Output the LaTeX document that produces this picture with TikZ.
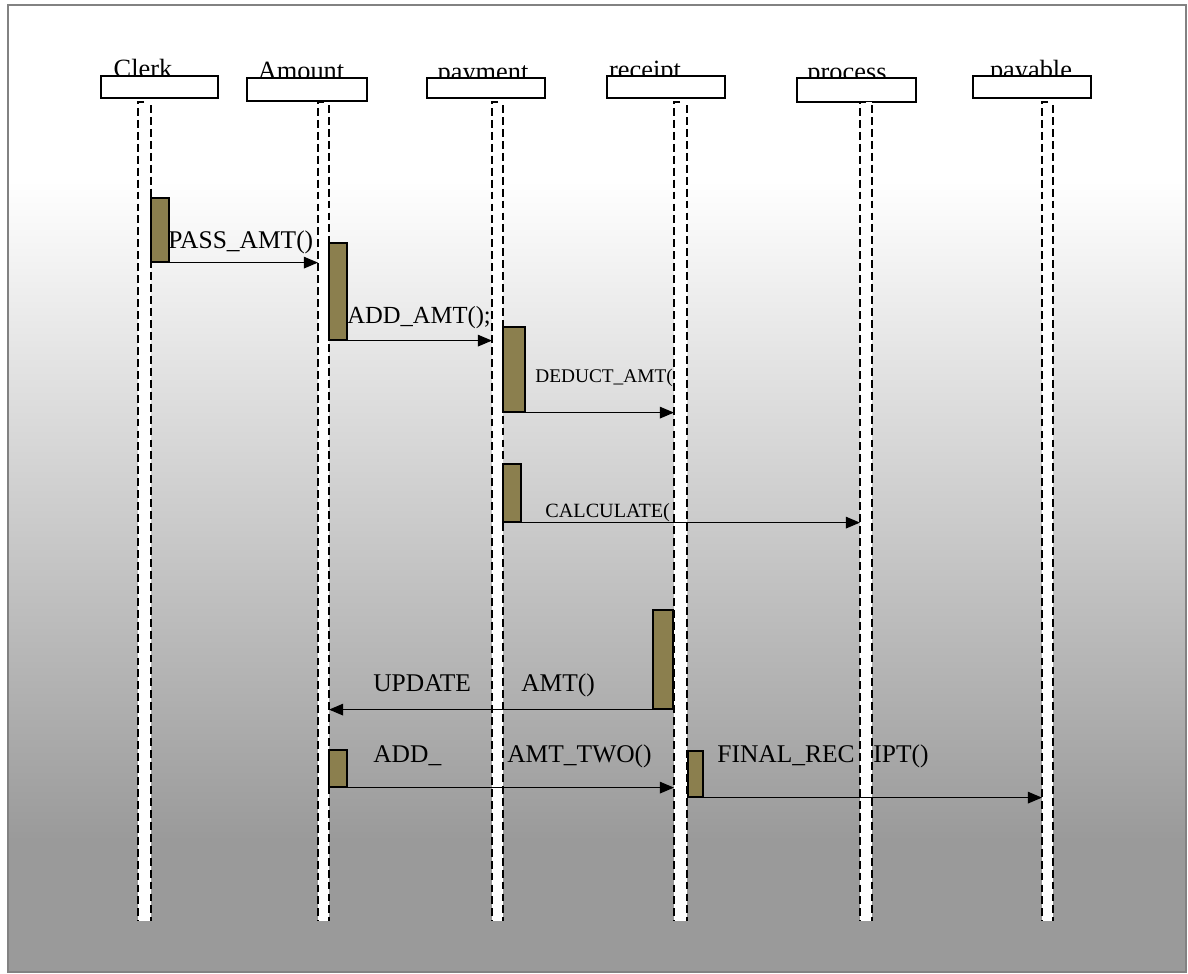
\documentclass[tikz,border=0pt]{standalone}
\usepackage{fontspec}
\setmainfont{Liberation Serif}
\usetikzlibrary{arrows.meta, positioning, fit}
\definecolor{actolive}{RGB}{139,127,78}
\definecolor{bggray}{RGB}{154,154,154}
\definecolor{framegray}{RGB}{130,130,130}

\begin{document}
\begin{tikzpicture}[x=0.02cm, y=-0.02cm,
    objbox/.style={draw, fill=white, line width=1pt, inner sep=0pt},
    objname/.style={inner sep=0pt, anchor=base, font=\fontsize{15}{17}\selectfont},
    actbar/.style={draw, fill=actolive, line width=0.7pt, inner sep=0pt},
    msg/.style={line width=0.9pt, -{Triangle[length=8pt,width=6.5pt]}},
    msgtext/.style={inner sep=0pt, anchor=base west, font=\fontsize{14.5}{16}\selectfont},
    smalltext/.style={msgtext, font=\fontsize{11}{13}\selectfont},
    lifedash/.style={dash pattern=on 4.5pt off 2.3pt, line width=1.2pt}]
        \useasboundingbox (0,0) rectangle (1188,974);

        % background and frame
        \fill[white] (8,5) rectangle (1186,181);
        \shade[top color=white, bottom color=bggray] (8,180) rectangle (1186,841);
        \fill[bggray] (8,840) rectangle (1186,972);
        \draw[framegray, line width=1.2pt] (8,5) rectangle (1186,972);

        % object heads
        \node[objname] (clerkT) at (143,77) {Clerk};
        \node[objname] (amountT) at (301,79) {Amount};
        \node[objname] (paymentT) at (483,80) {payment};
        \node[objname] (receiptT) at (645,78) {receipt};
        \node[objname] (processT) at (847,80) {process};
        \node[objname] (payableT) at (1031,78) {payable};

        \node[objbox, fit={(101,76) (218,98)}] (clerk) {};
        \node[objbox, fit={(247,78) (367,101)}] (amount) {};
        \node[objbox, fit={(427,78) (545,98)}] (payment) {};
        \node[objbox, fit={(607,76) (725,98)}] (receipt) {};
        \node[objbox, fit={(797,78) (916,102)}] (process) {};
        \node[objbox, fit={(973,76) (1091,98)}] (payable) {};

        % message labels
        \node[msgtext] (passT) at (168,248) {PASS\_AMT()};
        \node[msgtext, font=\fontsize{14}{16}\selectfont] (addT) at (347,323) {ADD\_AMT();};
        \node[smalltext] (deductT) at (535,382) {DEDUCT\_AMT(};
        \node[smalltext, font=\fontsize{11.5}{13}\selectfont] (calcT) at (545,517) {CALCULATE(};
        \node[msgtext] (updT1) at (373,691) {UPDATE};
        \node[msgtext] (updT2) at (521,691) {AMT()};
        \node[msgtext] (twoT1) at (373,762) {ADD\_};
        \node[msgtext] (twoT2) at (507,762) {AMT\_TWO()};
        \node[msgtext] (finT1) at (717,762) {FINAL\_REC};
        \node[msgtext] (finT2) at (873,762) {IPT()};

        % lifelines
        \foreach \nm/\l/\r in {clerk/138/151, amount/318/329, payment/492/503,
                               receipt/674/687, process/860/872, payable/1042/1053} {
            \fill[white] (\l,102) rectangle (\r,921);
            \draw[lifedash] (\l+6,102) -- (\l,102) -- (\l,921);
            \draw[lifedash] (\r,105) -- (\r,921);
            \coordinate (\nm-l) at (\l,102);
            \coordinate (\nm-r) at (\r,102);
        }

        % activations
        \node[actbar, fit={(151,198) (169,262)}] (b1) {};
        \node[actbar, fit={(329,243) (347,340)}] (b2) {};
        \node[actbar, fit={(503,327) (525,412)}] (b3) {};
        \node[actbar, fit={(503,464) (521,522)}] (b4) {};
        \node[actbar, fit={(653,610) (673,709)}] (b5) {};
        \node[actbar, fit={(329,750) (347,787)}] (b6) {};
        \node[actbar, fit={(688,751) (703,797)}] (b7) {};

        % messages
        \draw[msg] (b1.south west) -- (amount-l |- b1.south west);
        \draw[msg] (b2.south west) -- (payment-l |- b2.south west);
        \draw[msg] (b3.south west) -- (receipt-l |- b3.south west);
        \draw[msg] (b4.south west) -- (process-l |- b4.south west);
        \draw[msg] (b5.south east) -- (amount-r |- b5.south east);
        \draw[msg] (b6.south west) -- (receipt-l |- b6.south west);
        \draw[msg] (b7.south west) -- (payable-l |- b7.south west);
    \end{tikzpicture}
\end{document}
